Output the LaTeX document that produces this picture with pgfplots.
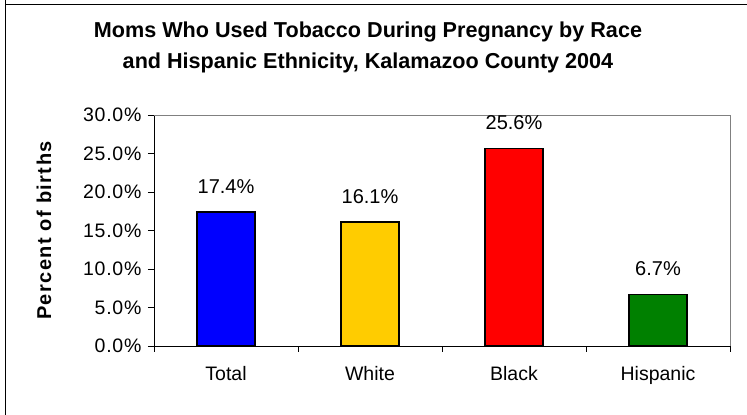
\documentclass[border=0pt]{standalone}
\usepackage{fontspec}
\setmainfont{Liberation Sans}
\newfontfamily\ylabfont[LetterSpace=7]{Liberation Sans}
\newfontfamily\tickfont[LetterSpace=4]{Liberation Sans}
\usepackage{pgfplots}
\pgfplotsset{compat=1.18}

\definecolor{barblue}{RGB}{0,0,255}
\definecolor{bargold}{RGB}{255,204,0}
\definecolor{barred}{RGB}{255,0,0}
\definecolor{bargreen}{RGB}{0,128,0}

\begin{document}
\begin{tikzpicture}[x=1pt,y=1pt]
\useasboundingbox (0,0) rectangle (747,415);
% outer chart frame (only top and left visible)
\draw[line width=1.3pt] (5.5,415) -- (5.5,410.5) -- (747,410.5);
\draw[line width=1.3pt] (5.5,410.5) -- (5.5,0);
% title
\node[anchor=base,font=\fontsize{21.6}{25}\selectfont\bfseries] at (368,377.3)
  {Moms Who Used Tobacco During Pregnancy by Race};
\node[anchor=base,font=\fontsize{21.6}{25}\selectfont\bfseries] at (368,346.7)
  {and Hispanic Ethnicity, Kalamazoo County 2004};
\begin{axis}[
    at={(154pt,69pt)}, anchor=south west,
    scale only axis,
    width=576pt, height=231pt,
    /pgf/number format/assume math mode=true,
    axis lines*=left,
    axis line style={black, line width=0.8pt},
    ymin=0, ymax=30,
    xmin=-0.5, xmax=3.5,
    ytick={0,5,10,15,20,25,30},
    yticklabel={\pgfmathprintnumber[fixed,fixed zerofill,precision=1]{\tick}\%},
    yticklabel style={font=\tickfont\fontsize{19.5}{22}\selectfont, xshift=-3pt},
    xtick={0,1,2,3},
    xticklabels={Total,White,Black,Hispanic},
    xticklabel style={font=\fontsize{19.5}{22}\selectfont, yshift=-11pt},
    major x tick style={draw=none},
    minor xtick={-0.5,0.5,1.5,2.5,3.5},
    tick align=outside,
    major tick length=6pt,
    minor tick length=6pt,
    tick style={black, line width=0.8pt},
    every axis y label/.style={at={(axis description cs:0,0.5)}, xshift=-110pt,
        rotate=90, anchor=center},
    ylabel={\ylabfont\fontsize{20}{23}\selectfont\bfseries Percent of births},
    ybar, bar shift=0pt, bar width=58pt,
    nodes near coords={\pgfmathprintnumber[fixed,fixed zerofill,precision=1]{\pgfplotspointmeta}\%},
    nodes near coords style={font=\fontsize{20}{24}\selectfont, anchor=base, yshift=19pt},
    clip=false,
]
\addplot[fill=barblue, draw=black, line width=1.2pt] coordinates {(0,17.4)};
\addplot[fill=bargold, draw=black, line width=1.2pt] coordinates {(1,16.1)};
\addplot[fill=barred, draw=black, line width=1.2pt] coordinates {(2,25.6)};
\addplot[fill=bargreen, draw=black, line width=1.2pt] coordinates {(3,6.7)};
\draw[gray, line width=0.8pt] (rel axis cs:0,1) -- (rel axis cs:1,1) -- (rel axis cs:1,0);
\end{axis}
\end{tikzpicture}
\end{document}
